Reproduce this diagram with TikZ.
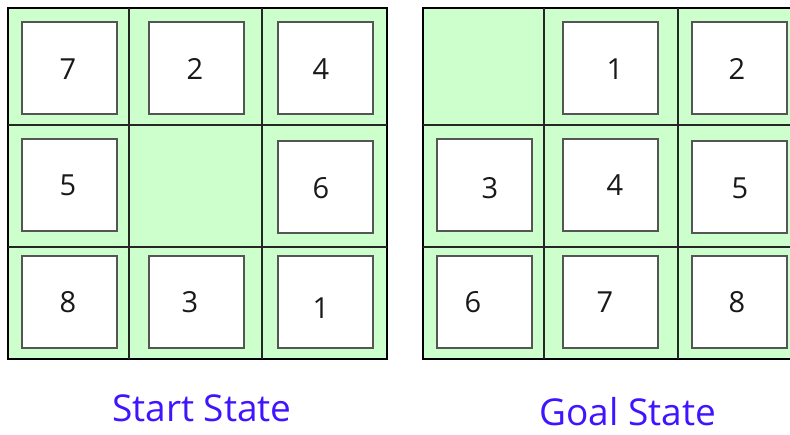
\documentclass[tikz,border=0pt]{standalone}
\usepackage{fontspec}
\setmainfont{Open Sans}
\definecolor{cellgreen}{RGB}{204,255,204}
\definecolor{tileedge}{RGB}{85,85,85}
\definecolor{labelblue}{RGB}{64,20,255}
\begin{document}
\begin{tikzpicture}[x=1pt,y=-1pt,
  board/.style={fill=cellgreen,draw=black,line width=1.4pt},
  gridline/.style={draw=black!85,line width=1.4pt},
  tile/.style={draw=tileedge,line width=2pt,fill=white,inner sep=0pt,minimum width=95pt,minimum height=92pt},
  digit/.style={font=\fontsize{29}{34}\selectfont,text=black!90,inner sep=0pt},
  caption/.style={font=\fontsize{37}{42}\selectfont,text=labelblue,inner sep=0pt}]
\useasboundingbox (0,0) rectangle (790,434);
\begin{scope}
\clip (0,0) rectangle (790,434);
% start board
\draw[board] (8,8) rectangle (387,359);
\draw[gridline] (129,8) -- (129,359) (262,8) -- (262,359) (8,125) -- (387,125) (8,247) -- (387,247);
% goal board
\draw[board] (423,8) rectangle (810,359);
\draw[gridline] (544,8) -- (544,359) (678,8) -- (678,359) (423,125) -- (810,125) (423,247) -- (810,247);
\end{scope}
% start tiles
\node[tile] (s7) at (69.5,67.5) {};
\node[tile] (s2) at (196,67.5) {};
\node[tile] (s4) at (325,67.5) {};
\node[tile] (s5) at (69.5,184.5) {};
\node[tile] (s6) at (325,186.5) {};
\node[tile] (s8) at (69.5,301.5) {};
\node[tile] (s3) at (196,301.5) {};
\node[tile] (s1) at (325,301.5) {};
\node[digit] at (68,69) {7};
\node[digit] at (195,69) {2};
\node[digit] at (321,69) {4};
\node[digit] at (68,185) {5};
\node[digit] at (321,188) {6};
\node[digit] at (68,302) {8};
\node[digit] at (190,302) {3};
\node[digit] at (321,308) {1};
% goal tiles
\node[tile] (g1) at (610.5,67.5) {};
\node[tile] (g2) at (739.5,67.5) {};
\node[tile] (g3) at (484,184.5) {};
\node[tile] (g4) at (610.5,184.5) {};
\node[tile] (g5) at (739.5,186.5) {};
\node[tile] (g6) at (484,301.5) {};
\node[tile] (g7) at (610.5,301.5) {};
\node[tile] (g8) at (739.5,301.5) {};
\node[digit] at (615,69) {1};
\node[digit] at (737,69) {2};
\node[digit] at (490,188) {3};
\node[digit] at (615,185) {4};
\node[digit] at (740,188) {5};
\node[digit] at (473,302) {6};
\node[digit] at (605,302) {7};
\node[digit] at (737,302) {8};
% captions
\node[caption,anchor=base] (startlbl) at (202,421) {Start State};
\node[caption,anchor=base] (goallbl) at (628,425) {Goal State};
\end{tikzpicture}
\end{document}
